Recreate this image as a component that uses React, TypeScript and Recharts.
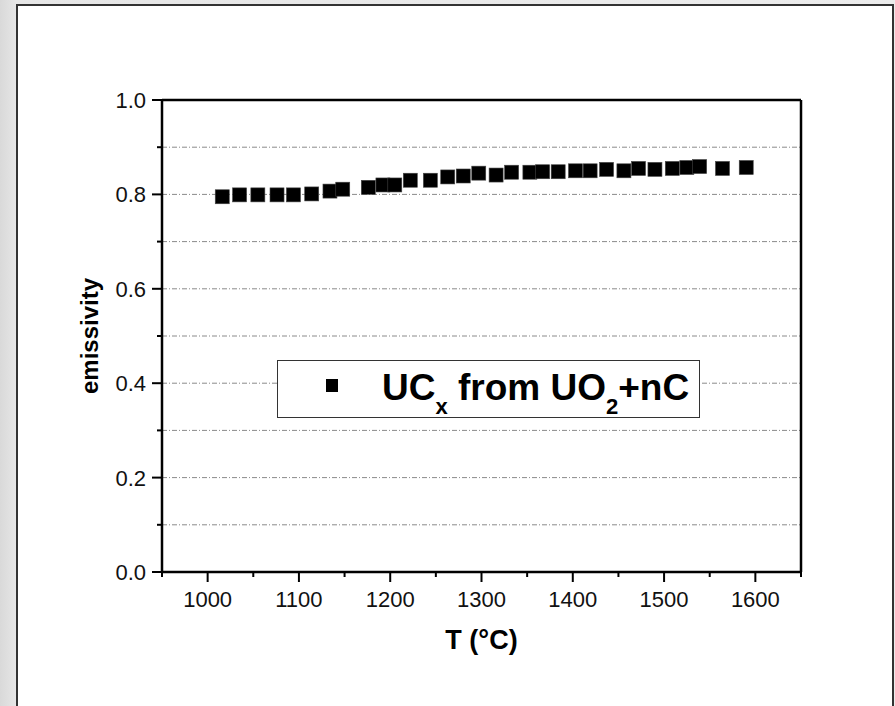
import {
  ScatterChart,
  Scatter,
  XAxis,
  YAxis,
  CartesianGrid,
  ReferenceLine,
  Legend,
  Label,
} from 'recharts';

const T_VALUES = [
  1016, 1035, 1055, 1076, 1094, 1114, 1134, 1148, 1176, 1192, 1205, 1222, 1244, 1263, 1280, 1297,
  1316, 1333, 1353, 1367, 1384, 1403, 1419, 1437, 1456, 1472, 1490, 1509, 1525, 1539, 1564, 1590,
];
const EMISSIVITY = [
  0.795, 0.799, 0.799, 0.799, 0.799, 0.801, 0.807, 0.811, 0.815, 0.82, 0.82, 0.83, 0.83, 0.837, 0.839, 0.845,
  0.841, 0.847, 0.847, 0.848, 0.848, 0.85, 0.85, 0.853, 0.85, 0.855, 0.853, 0.855, 0.857, 0.859, 0.855, 0.857,
];

const X_TICKS = [950, 1000, 1050, 1100, 1150, 1200, 1250, 1300, 1350, 1400, 1450, 1500, 1550, 1600, 1650];
const X_LABELLED = [1000, 1100, 1200, 1300, 1400, 1500, 1600];
const Y_TICKS = [0, 0.1, 0.2, 0.3, 0.4, 0.5, 0.6, 0.7, 0.8, 0.9, 1.0];
const Y_LABELLED = [0, 0.2, 0.4, 0.6, 0.8, 1.0];

const SERIES_NAME = 'UCx from UO2+nC';

const data = T_VALUES.map((t, i) => ({ t, e: EMISSIVITY[i] }));

const FONT = '"Liberation Sans", Arial, Helvetica, sans-serif';
const AXIS = { stroke: '#000', strokeWidth: 2.5 };

function SquareMarker(props: any) {
  const { cx, cy } = props;
  if (cx == null || cy == null) return null;
  return <rect x={cx - 7} y={cy - 7} width={14} height={14} fill="#000" stroke="#444" strokeWidth={0.6} />;
}

function XTick(props: any) {
  const { x, y, payload } = props;
  const major = X_LABELLED.includes(payload.value);
  return (
    <g>
      <line x1={x} x2={x} y1={y} y2={y + (major ? 10 : 5)} stroke="#000" strokeWidth={2} />
      {major && (
        <text x={x} y={y + 35} textAnchor="middle" fontSize={22} fill="#111">
          {payload.value}
        </text>
      )}
    </g>
  );
}

function YTick(props: any) {
  const { x, y, payload } = props;
  const major = Y_LABELLED.some((v) => Math.abs(v - payload.value) < 1e-6);
  return (
    <g>
      <line x1={x} x2={x - (major ? 10 : 5)} y1={y} y2={y} stroke="#000" strokeWidth={2} />
      {major && (
        <text x={x - 16} y={y + 8} textAnchor="end" fontSize={22} fill="#111">
          {payload.value.toFixed(1)}
        </text>
      )}
    </g>
  );
}

function XTitle(props: any) {
  const { x, y, width } = props.viewBox;
  return (
    <text x={x + width / 2} y={y + 77} textAnchor="middle" fontSize={27} fontWeight="bold" fill="#000">
      T (°C)
    </text>
  );
}

function YTitle(props: any) {
  const { x, y, height } = props.viewBox;
  const tx = x + 16;
  const ty = y + height / 2;
  return (
    <text
      x={tx}
      y={ty}
      transform={`rotate(-90, ${tx}, ${ty})`}
      textAnchor="middle"
      fontSize={24}
      fontWeight="bold"
      fill="#000"
    >
      emissivity
    </text>
  );
}

function LegendBox() {
  return (
    <svg width={423} height={58} style={{ display: 'block', fontFamily: FONT }}>
      <rect x={0.5} y={0.5} width={422} height={57} fill="#fff" stroke="#333" strokeWidth={1} />
      <rect x={49} y={19} width={12} height={13} fill="#000" />
      <text x={105} y={40} fontSize={37} fontWeight="bold" fill="#000">
        <tspan>UC</tspan>
        <tspan fontSize={22} dy={14}>x</tspan>
        <tspan dy={-14}> from UO</tspan>
        <tspan fontSize={22} dy={14}>2</tspan>
        <tspan dy={-14}>+nC</tspan>
      </text>
    </svg>
  );
}

export default function App() {
  return (
    <div
      style={{
        position: 'absolute',
        left: 0,
        top: 0,
        width: 895,
        height: 706,
        overflow: 'hidden',
        background: 'linear-gradient(to right, #d9d9d9 0px, #e6e6e6 16px, #ececec 100%)',
        fontFamily: FONT,
      }}
    >
      <div
        style={{
          position: 'absolute',
          left: 16,
          top: 4,
          width: 878,
          height: 720,
          boxSizing: 'border-box',
          border: '2px solid #333',
          background: '#fff',
        }}
      />
      <div style={{ position: 'absolute', left: 0, top: 0 }}>
        <ScatterChart width={895} height={706} margin={{ top: 100, right: 94, bottom: 54, left: 82 }}>
          <CartesianGrid horizontal vertical={false} stroke="#8a8a8a" strokeWidth={1} strokeDasharray="5 2 1 2" />
          <XAxis
            type="number"
            dataKey="t"
            domain={[950, 1650]}
            ticks={X_TICKS}
            interval={0}
            tick={<XTick />}
            tickSize={0}
            tickMargin={0}
            tickLine={false}
            axisLine={AXIS}
            height={80}
            allowDataOverflow
          >
            <Label content={<XTitle />} />
          </XAxis>
          <YAxis
            type="number"
            dataKey="e"
            domain={[0, 1]}
            ticks={Y_TICKS}
            interval={0}
            tick={<YTick />}
            tickSize={0}
            tickMargin={0}
            tickLine={false}
            axisLine={AXIS}
            width={80}
            allowDataOverflow
          >
            <Label content={<YTitle />} />
          </YAxis>
          <ReferenceLine y={1} stroke="#000" strokeWidth={2.5} />
          <ReferenceLine x={1650} stroke="#000" strokeWidth={2.5} />
          <Legend
            layout="horizontal"
            verticalAlign="middle"
            align="center"
            wrapperStyle={{ left: 277, top: 360, width: 423, height: 58 }}
            content={<LegendBox />}
          />
          <Scatter name={SERIES_NAME} data={data} fill="#000" shape={<SquareMarker />} isAnimationActive={false} />
        </ScatterChart>
      </div>
    </div>
  );
}
